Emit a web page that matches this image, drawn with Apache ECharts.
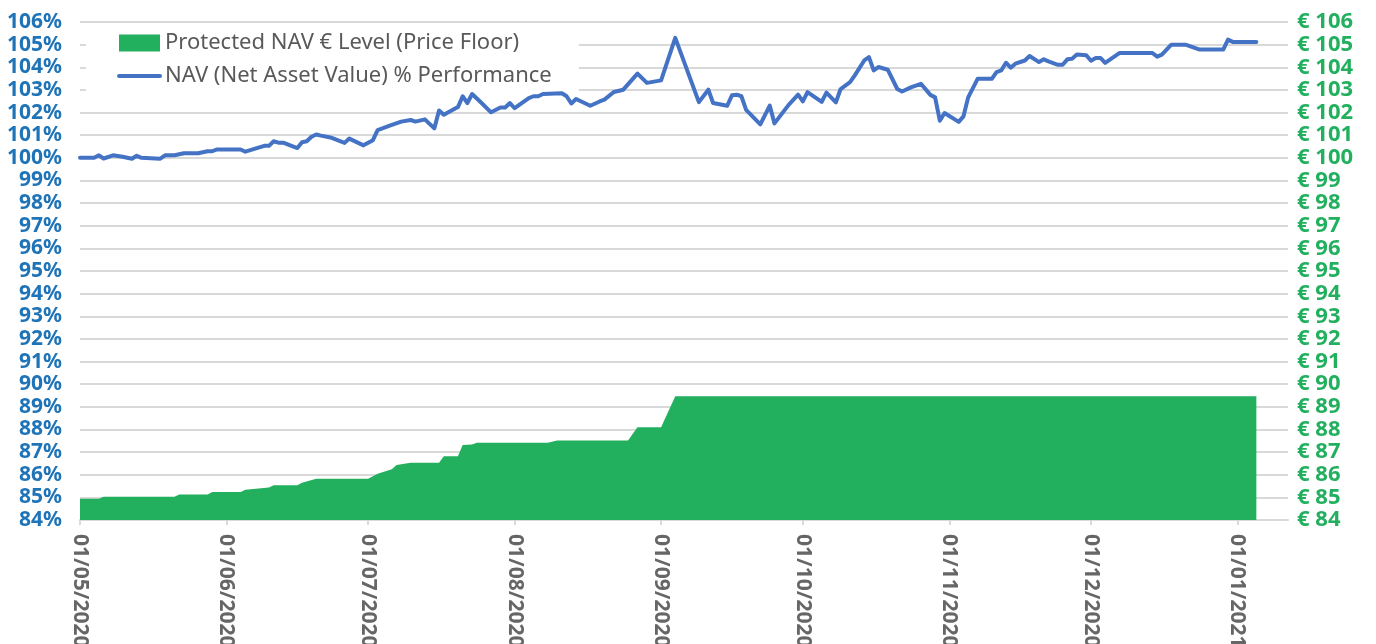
<!DOCTYPE html>
<html><head><meta charset="utf-8">
<script src="https://cdn.jsdelivr.net/npm/echarts@6/dist/echarts.min.js"></script>
<style>html,body{margin:0;padding:0;background:#fff}#c{width:1376px;height:644px}</style>
</head><body><div id="c"></div>
<script>
const floorName = 'Protected NAV € Level (Price Floor)';
const navName = 'NAV (Net Asset Value) % Performance';

const navDates = ['2020-05-01','2020-05-04','2020-05-05','2020-05-06','2020-05-08','2020-05-10','2020-05-12','2020-05-13','2020-05-14','2020-05-18','2020-05-19','2020-05-21','2020-05-23','2020-05-26','2020-05-28','2020-05-29','2020-05-30','2020-06-04','2020-06-05','2020-06-09','2020-06-10','2020-06-11','2020-06-12','2020-06-13','2020-06-16','2020-06-17','2020-06-18','2020-06-19','2020-06-20','2020-06-21','2020-06-23','2020-06-26','2020-06-27','2020-06-30','2020-07-02','2020-07-03','2020-07-06','2020-07-08','2020-07-10','2020-07-11','2020-07-13','2020-07-15','2020-07-16','2020-07-17','2020-07-20','2020-07-21','2020-07-22','2020-07-23','2020-07-25','2020-07-27','2020-07-29','2020-07-30','2020-07-31','2020-08-01','2020-08-04','2020-08-05','2020-08-06','2020-08-07','2020-08-11','2020-08-12','2020-08-13','2020-08-14','2020-08-17','2020-08-19','2020-08-20','2020-08-22','2020-08-24','2020-08-27','2020-08-29','2020-09-01','2020-09-04','2020-09-09','2020-09-11','2020-09-12','2020-09-15','2020-09-16','2020-09-17','2020-09-18','2020-09-19','2020-09-22','2020-09-24','2020-09-25','2020-09-28','2020-09-30','2020-10-01','2020-10-02','2020-10-05','2020-10-06','2020-10-08','2020-10-09','2020-10-11','2020-10-12','2020-10-14','2020-10-15','2020-10-16','2020-10-17','2020-10-19','2020-10-21','2020-10-22','2020-10-24','2020-10-26','2020-10-28','2020-10-29','2020-10-30','2020-10-31','2020-11-03','2020-11-04','2020-11-05','2020-11-07','2020-11-10','2020-11-11','2020-11-12','2020-11-13','2020-11-14','2020-11-15','2020-11-17','2020-11-18','2020-11-20','2020-11-21','2020-11-22','2020-11-24','2020-11-25','2020-11-26','2020-11-27','2020-11-28','2020-11-30','2020-12-01','2020-12-02','2020-12-03','2020-12-04','2020-12-07','2020-12-14','2020-12-15','2020-12-16','2020-12-18','2020-12-21','2020-12-24','2020-12-29','2020-12-30','2020-12-31','2021-01-05'];
const navValues = [100.00,100.00,100.11,99.97,100.11,100.05,99.96,100.09,100.00,99.96,100.11,100.11,100.20,100.20,100.29,100.29,100.37,100.37,100.27,100.53,100.53,100.73,100.67,100.67,100.43,100.69,100.73,100.93,101.03,100.98,100.90,100.66,100.85,100.55,100.78,101.22,101.45,101.60,101.67,101.60,101.70,101.30,102.09,101.90,102.24,102.72,102.42,102.82,102.42,102.01,102.22,102.22,102.42,102.19,102.64,102.72,102.72,102.82,102.85,102.72,102.40,102.60,102.30,102.49,102.57,102.91,103.01,103.72,103.31,103.42,105.30,102.46,103.01,102.42,102.30,102.76,102.79,102.72,102.12,101.48,102.31,101.52,102.34,102.79,102.49,102.90,102.47,102.88,102.45,103.04,103.34,103.64,104.30,104.45,103.86,104.01,103.89,103.04,102.93,103.12,103.27,102.78,102.67,101.64,101.98,101.59,101.83,102.67,103.49,103.49,103.79,103.86,104.20,103.98,104.16,104.30,104.50,104.23,104.35,104.26,104.11,104.11,104.35,104.38,104.56,104.53,104.29,104.41,104.41,104.19,104.63,104.63,104.47,104.56,105.00,105.00,104.78,104.78,105.22,105.12,105.12];

const floorDates = ['2020-05-01','2020-05-05','2020-05-06','2020-05-21','2020-05-22','2020-05-28','2020-05-29','2020-06-04','2020-06-05','2020-06-10','2020-06-11','2020-06-16','2020-06-17','2020-06-20','2020-07-01','2020-07-03','2020-07-06','2020-07-07','2020-07-08','2020-07-10','2020-07-16','2020-07-17','2020-07-20','2020-07-21','2020-07-23','2020-07-24','2020-08-08','2020-08-10','2020-08-25','2020-08-27','2020-09-01','2020-09-04','2021-01-05'];
const floorValues = [84.94,84.94,85.03,85.03,85.13,85.13,85.24,85.24,85.34,85.44,85.53,85.53,85.65,85.82,85.82,86.04,86.24,86.43,86.46,86.53,86.53,86.82,86.82,87.31,87.34,87.41,87.41,87.51,87.51,88.10,88.10,89.47,89.47];

const monthTicks = ['2020-05-01','2020-06-01','2020-07-01','2020-08-01','2020-09-01','2020-10-01','2020-11-01','2020-12-01','2021-01-01'];
const axisStart = '2020-05-01';
const axisEnd = '2021-01-11';

const DAY = 86400000;
function toTime(s){const p=s.split('-');return Date.UTC(+p[0],+p[1]-1,+p[2]);}
function pad(n){return (n<10?'0':'')+n;}
function fmt(v){const d=new Date(v);return pad(d.getUTCDate())+'/'+pad(d.getUTCMonth()+1)+'/'+d.getUTCFullYear();}

const tickTimes = monthTicks.map(toTime);
const navData = navDates.map((d,i)=>[toTime(d), navValues[i]]);
const floorData = floorDates.map((d,i)=>[toTime(d), floorValues[i]]);

const chart = echarts.init(document.getElementById('c'));
chart.setOption({
  animation: false,
  backgroundColor: '#ffffff',
  grid: {left: 80, right: 88, top: 22, bottom: 124, containLabel: false, outerBoundsMode: 'none'},
  legend: {
    orient: 'vertical', left: 86, top: 29,
    padding: [3, 27, 4, 31], itemGap: 11, itemWidth: 41, itemHeight: 17,
    backgroundColor: '#ffffff', selectedMode: false,
    textStyle: {color: '#595959', fontSize: 22, fontFamily: 'Noto Sans', lineHeight: 22},
    lineStyle: {width: 4},
    data: [{name: floorName, icon: 'rect'}, {name: navName, itemStyle: {opacity: 0}}]
  },
  xAxis: {
    type: 'value',
    min: toTime(axisStart), max: toTime(axisEnd) + 0.7*DAY,
    splitLine: {show: false},
    axisLine: {show: true, lineStyle: {color: '#D9D9D9', width: 2}},
    axisTick: {show: true, customValues: tickTimes, length: 5, lineStyle: {color: '#D9D9D9', width: 2}},
    axisLabel: {
      customValues: tickTimes, rotate: -90, margin: 14,
      color: '#666666', fontWeight: 'bold', fontSize: 21, fontFamily: 'Noto Sans',
      formatter: fmt
    }
  },
  yAxis: [
    {
      type: 'value', min: 84, max: 106, interval: 1, position: 'left',
      axisLine: {show: false}, axisTick: {show: false},
      splitLine: {show: true, lineStyle: {color: '#D9D9D9', width: 2}},
      axisLabel: {formatter: '{value}%', color: '#1F74B8', fontWeight: 'bold', fontSize: 21, fontFamily: 'Noto Sans', margin: 18}
    },
    {
      type: 'value', min: 84, max: 106, interval: 1, position: 'right',
      axisLine: {show: false}, axisTick: {show: false}, splitLine: {show: false},
      axisLabel: {formatter: '€ {value}', color: '#22B05F', fontWeight: 'bold', fontSize: 22, fontFamily: 'Noto Sans', margin: 9}
    }
  ],
  series: [
    {
      name: floorName, type: 'line', yAxisIndex: 1, data: floorData,
      symbol: 'none', z: 2,
      itemStyle: {color: '#22B05F'},
      lineStyle: {width: 0, color: '#22B05F'},
      areaStyle: {color: '#22B05F', opacity: 1, origin: 'start'}
    },
    {
      name: navName, type: 'line', yAxisIndex: 0, data: navData,
      symbol: 'none', z: 3,
      itemStyle: {color: '#4472C4'},
      lineStyle: {width: 4, color: '#4472C4', join: 'round', cap: 'round'}
    }
  ]
});
</script>
</body></html>
